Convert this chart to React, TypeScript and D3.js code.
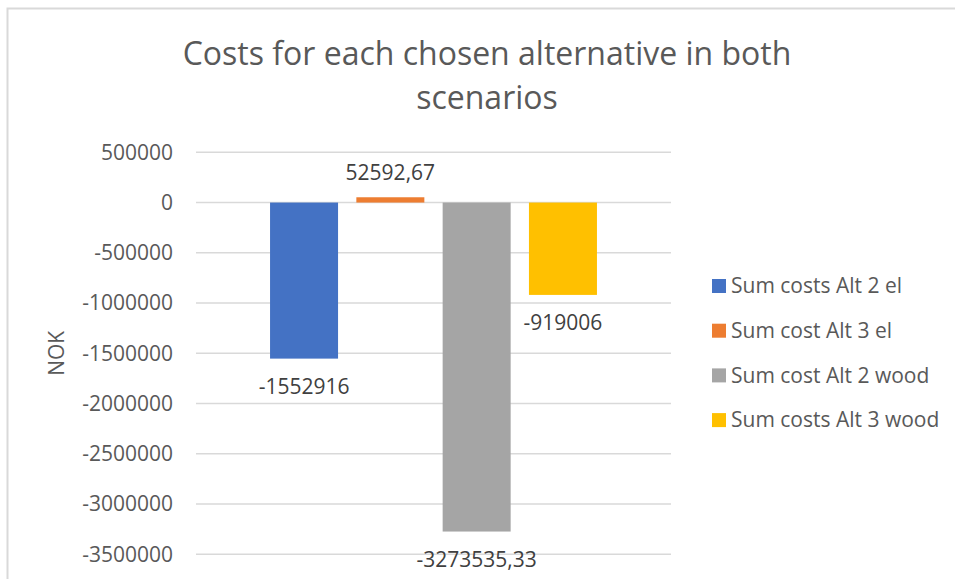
import React, { useRef, useEffect } from "react";
import * as d3 from "d3";

const seriesNames = [
  "Sum costs Alt 2 el",
  "Sum cost Alt 3 el",
  "Sum cost Alt 2 wood",
  "Sum costs Alt 3 wood",
];
const seriesValues = [-1552916, 52592.67, -3273535.33, -919006];
const valueLabels = ["-1552916", "52592,67", "-3273535,33", "-919006"];
const seriesColors = ["#4472C4", "#ED7D31", "#A5A5A5", "#FFC000"];
const yTicks = [500000, 0, -500000, -1000000, -1500000, -2000000, -2500000, -3000000, -3500000];
const titleLines = ["Costs for each chosen alternative in both", "scenarios"];

const W = 955;
const H = 579;
const FONT = "'Open Sans', sans-serif";

export default function App() {
  const svgRef = useRef<SVGSVGElement>(null);

  useEffect(() => {
    const svg = d3.select(svgRef.current);
    svg.selectAll("*").remove();

    // area del grafico
    const plot = { left: 196, right: 671, top: 152.3, bottom: 554.3 };

    svg.append("rect")
      .attr("x", 7.5).attr("y", 8.5)
      .attr("width", W).attr("height", H)
      .attr("fill", "#fff")
      .attr("stroke", "#D9D9D9")
      .attr("stroke-width", 2);

    const y = d3.scaleLinear()
      .domain([500000, -3500000])
      .range([plot.top, plot.bottom]);

    const x = d3.scaleBand<string>()
      .domain(seriesNames)
      .range([plot.left, plot.right])
      .paddingInner(0.212)
      .paddingOuter(0.858);

    // griglia
    svg.append("g")
      .selectAll("line")
      .data(yTicks)
      .join("line")
        .attr("x1", plot.left)
        .attr("x2", plot.right)
        .attr("y1", d => y(d))
        .attr("y2", d => y(d))
        .attr("stroke", "#D9D9D9")
        .attr("stroke-width", 1.5);

    // etichette asse y
    svg.append("g")
      .selectAll("text")
      .data(yTicks)
      .join("text")
        .attr("x", 173)
        .attr("y", d => y(d))
        .attr("dy", "0.35em")
        .attr("text-anchor", "end")
        .style("font-family", FONT)
        .style("font-size", "21px")
        .style("fill", "#595959")
        .text(d => String(d));

    svg.append("text")
      .attr("transform", `translate(64, ${(plot.top + plot.bottom) / 2}) rotate(-90)`)
      .attr("text-anchor", "middle")
      .style("font-family", FONT)
      .style("font-size", "21px")
      .style("fill", "#595959")
      .text("NOK");

    // barre
    const data = seriesNames.map((name, i) => ({ name, value: seriesValues[i], label: valueLabels[i], color: seriesColors[i] }));

    svg.append("g")
      .selectAll("rect")
      .data(data)
      .join("rect")
        .attr("x", d => x(d.name)!)
        .attr("width", x.bandwidth())
        .attr("y", d => y(Math.max(0, d.value)))
        .attr("height", d => Math.abs(y(d.value) - y(0)))
        .attr("fill", d => d.color);

    svg.append("g")
      .selectAll("text")
      .data(data)
      .join("text")
        .attr("x", d => x(d.name)! + x.bandwidth() / 2)
        .attr("y", d => d.value >= 0 ? y(d.value) - 25 : y(d.value) + 28)
        .attr("dy", "0.35em")
        .attr("text-anchor", "middle")
        .style("font-family", FONT)
        .style("font-size", "21px")
        .style("fill", "#404040")
        .text(d => d.label);

    // titolo
    svg.append("g")
      .selectAll("text")
      .data(titleLines)
      .join("text")
        .attr("x", 487)
        .attr("y", (d, i) => 65 + i * 44)
        .attr("text-anchor", "middle")
        .style("font-family", FONT)
        .style("font-size", "32px")
        .style("fill", "#595959")
        .text(d => d);

    // legenda
    const legend = svg.append("g")
      .selectAll("g")
      .data(data)
      .join("g")
        .attr("transform", (d, i) => `translate(712, ${286 + i * 44.7})`);

    legend.append("rect")
      .attr("x", 0).attr("y", -7)
      .attr("width", 14).attr("height", 14)
      .attr("fill", d => d.color);

    legend.append("text")
      .attr("x", 19)
      .attr("dy", "0.35em")
      .style("font-family", FONT)
      .style("font-size", "21px")
      .style("fill", "#595959")
      .text(d => d.name);
  }, []);

  return (
    <svg ref={svgRef} width={W} height={H}
      style={{ position: "absolute", left: 0, top: 0, background: "#fff" }} />
  );
}
